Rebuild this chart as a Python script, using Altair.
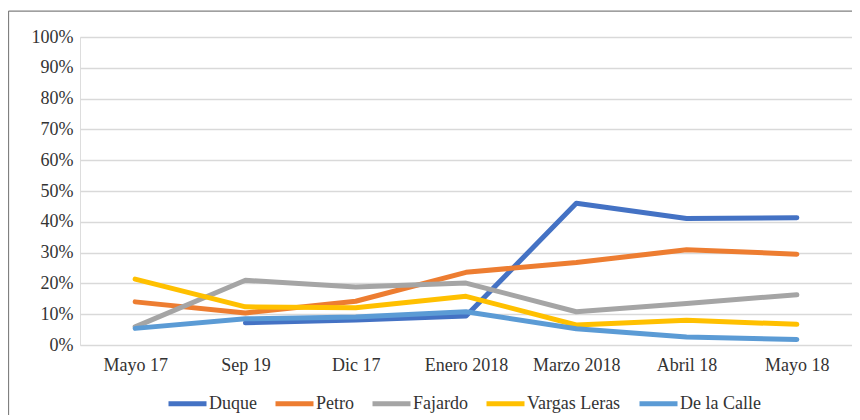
import altair as alt
import pandas as pd

categories = ["Mayo 17", "Sep 19", "Dic 17", "Enero 2018", "Marzo 2018", "Abril 18", "Mayo 18"]
series_names = ["Duque", "Petro", "Fajardo", "Vargas Leras", "De la Calle"]
duque = [None, 7.2, 8.1, 9.4, 46.0, 41.1, 41.3]
petro = [14.0, 10.4, 14.2, 23.6, 26.8, 30.9, 29.5]
fajardo = [5.9, 21.0, 18.8, 20.1, 10.8, 13.5, 16.3]
vargas = [21.4, 12.4, 12.1, 15.8, 6.5, 8.0, 6.7]
calle = [5.4, 8.5, 9.1, 10.8, 5.3, 2.6, 1.8]
colors = ["#4472C4", "#ED7D31", "#A5A5A5", "#FFC000", "#5B9BD5"]
y_ticks = [0, 0.1, 0.2, 0.3, 0.4, 0.5, 0.6, 0.7, 0.8, 0.9, 1.0]

rows = []
for name, vals in zip(series_names, [duque, petro, fajardo, vargas, calle]):
    for i, (c, v) in enumerate(zip(categories, vals)):
        if v is not None:
            rows.append({"Fecha": c, "Candidato": name, "Valor": v / 100, "idx": i})
df = pd.DataFrame(rows)

FONT = "Liberation Serif"

lines = alt.Chart(df).mark_line(strokeWidth=5, strokeCap="round", strokeJoin="round").encode(
    x=alt.X("Fecha:N", sort=categories, title=None,
            scale=alt.Scale(type="point", padding=0.5),
            axis=alt.Axis(labelAngle=0, ticks=False, domain=False, grid=False,
                          labelPadding=11, labelFont=FONT, labelFontSize=18,
                          labelColor="#333333")),
    y=alt.Y("Valor:Q", title=None,
            scale=alt.Scale(domain=[0, 1], nice=False),
            axis=alt.Axis(values=y_ticks, format=".0%", ticks=False, domain=False,
                          grid=True, gridColor="#D9D9D9", gridWidth=1.5,
                          labelPadding=7, labelFont=FONT, labelFontSize=18,
                          labelColor="#333333")),
    color=alt.Color("Candidato:N", sort=series_names,
                    scale=alt.Scale(domain=series_names, range=colors),
                    legend=alt.Legend(title=None, orient="none", legendX=86, legendY=345,
                                      direction="horizontal", symbolType="stroke",
                                      symbolSize=1444, symbolStrokeWidth=5,
                                      labelFont=FONT, labelFontSize=18, labelOffset=0,
                                      labelColor="#333333", columnPadding=8)),
    order="idx:Q",
)

frame_df = pd.DataFrame({"k": [0]})
left_border = alt.Chart(frame_df).mark_rule(color="#808080", strokeWidth=1.25).encode(
    x=alt.value(-71.5), y=alt.value(-26), y2=alt.value(400))
top_border = alt.Chart(frame_df).mark_rule(color="#808080", strokeWidth=1.25).encode(
    x=alt.value(-71.5), x2=alt.value(800), y=alt.value(-26))

chart = alt.layer(lines, left_border, top_border).properties(
    width=772, height=308,
    autosize=alt.AutoSizeParams(type="none"),
    padding={"left": 72, "top": 29, "right": 0, "bottom": 70},
).configure_view(stroke=None).configure(background="white")

chart.save("out.html", embed_options={"renderer": "svg", "actions": False})
